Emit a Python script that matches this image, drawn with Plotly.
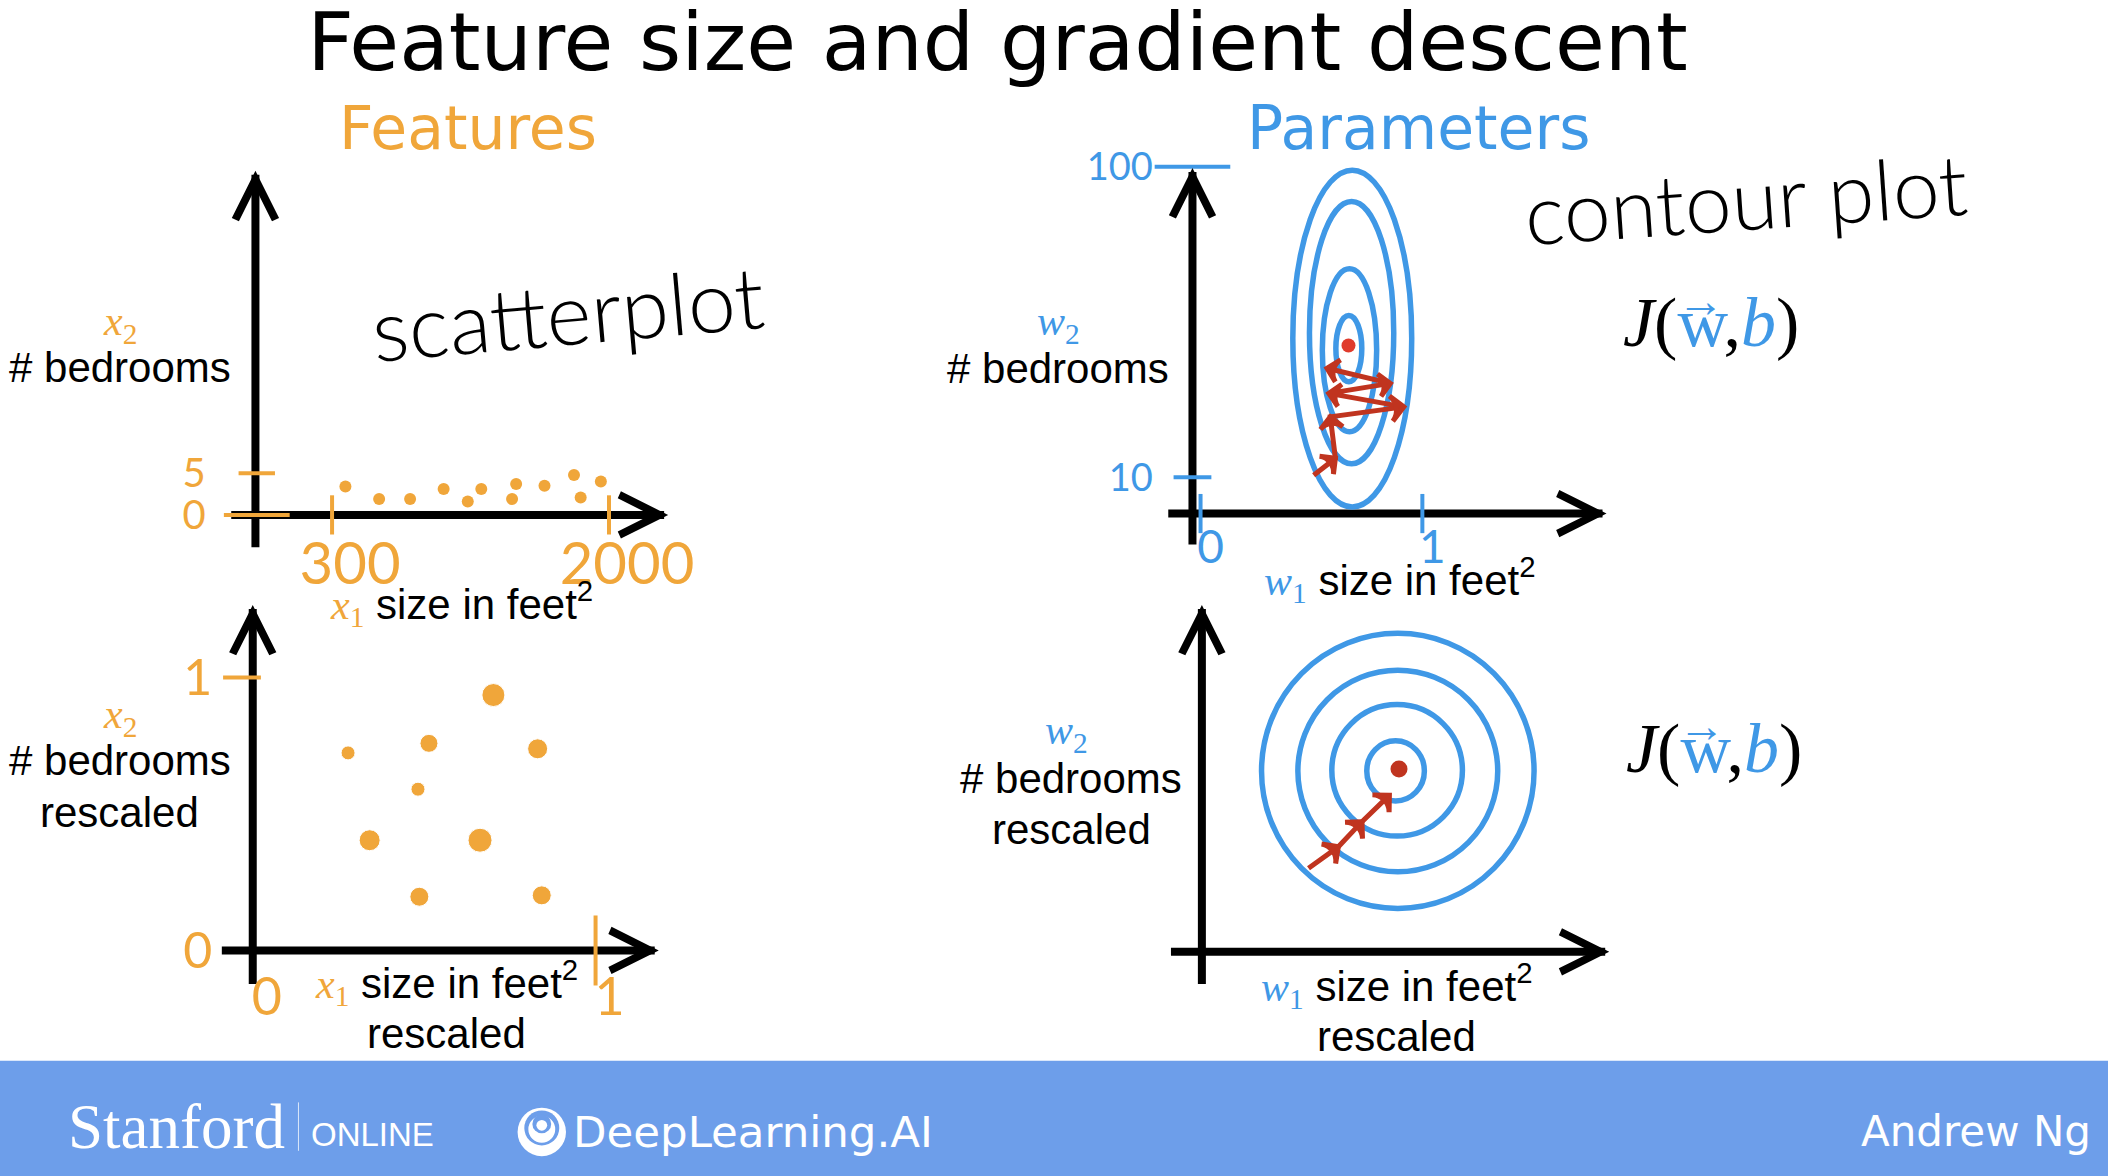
import plotly.graph_objects as go

# ---------- data ----------
raw_size = [382, 589, 779, 985, 1133, 1216, 1405, 1430, 1604, 1785, 1950, 1826]
raw_bedrooms = [3.4, 1.9, 1.9, 3.1, 1.6, 3.1, 1.9, 3.7, 3.5, 4.8, 4.0, 2.1]
raw_xticks = [300, 2000]
raw_yticks = [0, 5]

scaled_size = [0.278, 0.514, 0.702, 0.831, 0.482, 0.341, 0.663, 0.486, 0.843]
scaled_bedrooms = [0.724, 0.759, 0.936, 0.739, 0.591, 0.404, 0.404, 0.197, 0.202]
scaled_xticks = [0, 1]
scaled_yticks = [0, 1]
scaled_xmarks = [1]
scaled_ymarks = [1]

raw_w1_ticks = [0, 1]
raw_w2_ticks = [10, 100]
raw_ring_w1_low = [0.416, 0.491, 0.549, 0.610]
raw_ring_w1_high = [0.952, 0.871, 0.794, 0.727]
raw_ring_w2_low = [1.4, 13.9, 23.2, 37.7]
raw_ring_w2_high = [99.0, 89.9, 70.4, 56.9]
raw_path_w1 = [0.510, 0.608, 0.585, 0.916, 0.578, 0.856, 0.570]
raw_path_w2 = [10.6, 15.5, 27.5, 30.4, 34.3, 37.2, 41.6]
raw_min_w1 = [0.667]
raw_min_w2 = [48.2]

sc_ring_w1_low = [0.174, 0.280, 0.379, 0.481]
sc_ring_w1_high = [0.969, 0.863, 0.760, 0.649]
sc_ring_w2_low = [0.159, 0.293, 0.424, 0.553]
sc_ring_w2_high = [1.167, 1.032, 0.906, 0.773]
sc_path_w1 = [0.311, 0.398, 0.467, 0.547]
sc_path_w2 = [0.306, 0.385, 0.477, 0.574]
sc_min_w1 = [0.575]
sc_min_w2 = [0.670]

# ---------- style and layout helpers ----------
W, H = 2108, 1176
S = W / 1568
ORANGE, BLUE, RED = "#F0A63A", "#3F98E6", "#C0341F"
BAND = "#6D9EEA"
SANS, SERIF, WIDE = "Liberation Sans", "Liberation Serif", "DejaVu Sans"
HAND = "Lato Light, Lato"
DIGITS = "Lato"
LW = 8


def X(t):
    return t * S / W


def Y(t):
    return 1 - t * S / H


def span(v0, p0, v1, p1, a, b):
    k = (v1 - v0) / (p1 - p0)
    return [v0 + (a - p0) * k, v0 + (b - p0) * k]


fig = go.Figure()
annotations, shapes = [], []


def text(tx, ty, s, size, color="black", family=SANS, anchor="center", angle=0):
    annotations.append(dict(x=X(tx), y=Y(ty), xref="paper", yref="paper", text=s, showarrow=False,
                            xanchor=anchor, yanchor="middle", textangle=angle,
                            font=dict(size=size, color=color, family=family)))


def sym(letter, sub, color):
    return f'<span style="font-family:{SERIF};color:{color}"><i>{letter}</i><sub>{sub}</sub></span>'


def panel(n, ox, oy, tipx, tipy, left, down, xcal, ycal, xticks, yticks, xmarks, ymarks, tickcolor,
          xfont, yfont, xshift, xstand, ystand, xlen, ylens, ymark_px):
    """ox,oy axis origin; tip arrow ends; left/down axis overshoot (reference pixels / S units)."""
    a, b = min(ox, ymark_px) - 2, tipx
    c, d = oy + 2, tipy - 3
    xr = span(*xcal, a, b)
    yr = span(*ycal, c, d)
    x_for_ymarks = span(*xcal, ymark_px, ymark_px)[0]
    y_at_origin = span(*ycal, oy, oy)[0]
    base = dict(showgrid=False, zeroline=False, showline=False, ticks="", fixedrange=True, layer="below traces")
    sfx = "" if n == 1 else str(n)
    fig.layout[f"xaxis{sfx}"] = dict(base, domain=[X(a), X(b)], range=xr, anchor=f"y{sfx}",
                                     tickmode="array", tickvals=xticks, ticktext=[str(v) for v in xticks],
                                     tickfont=dict(size=xfont, color=tickcolor, family=DIGITS),
                                     ticklabelshift=xshift, ticklabelstandoff=xstand)
    fig.layout[f"yaxis{sfx}"] = dict(base, domain=[Y(c), Y(d)], range=yr, anchor=f"x{sfx}",
                                     tickmode="array", tickvals=yticks, ticktext=[str(v) for v in yticks],
                                     tickfont=dict(size=yfont, color=tickcolor, family=DIGITS),
                                     ticklabelstandoff=ystand)
    # axis lines, running past the origin
    shapes.append(dict(type="line", xref="paper", yref="paper", x0=X(left), x1=X(tipx - 3), y0=Y(oy), y1=Y(oy),
                       line=dict(color="black", width=LW), layer="below"))
    shapes.append(dict(type="line", xref="paper", yref="paper", x0=X(ox), x1=X(ox), y0=Y(tipy + 3), y1=Y(down),
                       line=dict(color="black", width=LW), layer="below"))
    # arrow heads
    annotations.append(dict(x=X(tipx), y=Y(oy), xref="paper", yref="paper", text="", showarrow=True,
                            arrowhead=5, arrowsize=1.05, arrowwidth=LW - 0.5, arrowcolor="black", ax=-24, ay=0))
    annotations.append(dict(x=X(ox), y=Y(tipy), xref="paper", yref="paper", text="", showarrow=True,
                            arrowhead=5, arrowsize=1.05, arrowwidth=LW - 0.5, arrowcolor="black", ax=0, ay=24))
    # tick marks, drawn across the axis lines
    xa, ya = f"x{sfx}", f"y{sfx}"
    if xmarks:
        fig.add_trace(go.Scatter(x=xmarks, y=[y_at_origin] * len(xmarks), xaxis=xa, yaxis=ya, mode="markers",
                                 cliponaxis=False, hoverinfo="skip",
                                 marker=dict(symbol="line-ns", size=xlen, opacity=1,
                                             line=dict(color=tickcolor, width=4))))
        fig.add_trace(go.Scatter(x=[x_for_ymarks] * len(ymarks), y=ymarks, xaxis=xa, yaxis=ya, mode="markers",
                                 cliponaxis=False, hoverinfo="skip",
                                 marker=dict(symbol="line-ew", size=ylens, opacity=1,
                                             line=dict(color=tickcolor, width=4))))
    return xa, ya


# Panel A: raw features
xa, ya = panel(1, 190, 383, 497, 127, 172, 407, (300, 247, 2000, 453), (0, 383, 5, 352),
               raw_xticks, raw_yticks, raw_xticks, raw_yticks, ORANGE, 58, 40, 18, 7, 46, 28, [47, 26], 191)
fig.add_trace(go.Scatter(x=raw_size, y=raw_bedrooms, xaxis=xa, yaxis=ya, mode="markers", hoverinfo="skip",
                         marker=dict(color=ORANGE, size=12, opacity=1)))

# Panel B: rescaled features
xa, ya = panel(2, 188, 707, 490, 450, 165, 732, (0, 188, 1, 443), (0, 707, 1, 504),
               scaled_xticks, scaled_yticks, scaled_xmarks, scaled_ymarks, ORANGE, 52, 50, 14, 9, 26, 50, [27], 180)
fig.add_trace(go.Scatter(x=scaled_size, y=scaled_bedrooms, xaxis=xa, yaxis=ya, mode="markers", hoverinfo="skip",
                         marker=dict(color=ORANGE, opacity=1, size=[14, 18, 23, 20, 14, 21, 24, 19, 19])))

# Panel C: raw parameters
xa, ya = panel(3, 887, 382, 1195, 125, 869, 405, (0, 893, 1, 1058), (10, 355, 100, 124),
               raw_w1_ticks, raw_w2_ticks, raw_w1_ticks, raw_w2_ticks, BLUE, 46, 38, 10, 0, 36, 28, [27, 54], 887)
for i in range(4):
    shapes.append(dict(type="circle", xref=xa, yref=ya, x0=raw_ring_w1_low[i], x1=raw_ring_w1_high[i],
                       y0=raw_ring_w2_low[i], y1=raw_ring_w2_high[i], line=dict(color=BLUE, width=5.5), layer="below"))
fig.add_trace(go.Scatter(x=raw_path_w1, y=raw_path_w2, xaxis=xa, yaxis=ya, mode="lines+markers", hoverinfo="skip",
                         line=dict(color=RED, width=5),
                         marker=dict(symbol="arrow-wide-open", angleref="previous", color=RED, opacity=1,
                                     size=[0, 16, 16, 18, 16, 16, 16], line=dict(color=RED, width=5))))
fig.add_trace(go.Scatter(x=raw_min_w1, y=raw_min_w2, xaxis=xa, yaxis=ya, mode="markers", hoverinfo="skip",
                         marker=dict(color="#E03B2C", size=14, opacity=1)))

# Panel D: rescaled parameters
xa, ya = panel(4, 894, 708, 1197, 450, 871, 732, (0, 894, 1, 1149), (0, 708, 1, 505),
               [], [], [], [], BLUE, 40, 40, 0, 0, 0, 0, [], 894)
for i in range(4):
    shapes.append(dict(type="circle", xref=xa, yref=ya, x0=sc_ring_w1_low[i], x1=sc_ring_w1_high[i],
                       y0=sc_ring_w2_low[i], y1=sc_ring_w2_high[i], line=dict(color=BLUE, width=5.5), layer="below"))
fig.add_trace(go.Scatter(x=sc_path_w1, y=sc_path_w2, xaxis=xa, yaxis=ya, mode="lines+markers", hoverinfo="skip",
                         line=dict(color=RED, width=5),
                         marker=dict(symbol="arrow-wide-open", angleref="previous", color=RED, opacity=1,
                                     size=[0, 17, 17, 17], line=dict(color=RED, width=5))))
fig.add_trace(go.Scatter(x=sc_min_w1, y=sc_min_w2, xaxis=xa, yaxis=ya, mode="markers", hoverinfo="skip",
                         marker=dict(color=RED, size=17, opacity=1)))

# ---------- texts ----------
text(348, 95, "Features", 60, ORANGE, WIDE)
text(1055, 95, "Parameters", 60, BLUE, WIDE)
text(422, 232, "scatterplot", 86, "black", HAND, angle=-5)
text(1299, 147, "contour plot", 84, "black", HAND, angle=-4)

FS = 42
feet = "size in feet<sup>2</sup>"
text(89, 241, sym("x", 2, ORANGE), FS)
text(89, 273, "# bedrooms", FS)
text(343, 449, sym("x", 1, ORANGE) + " " + feet, FS)

text(89, 533, sym("x", 2, ORANGE), FS)
text(89, 566, "# bedrooms", FS)
text(89, 604, "rescaled", FS)
text(332, 731, sym("x", 1, ORANGE) + " " + feet, FS)
text(332, 769, "rescaled", FS)

text(787, 241, sym("w", 2, BLUE), FS)
text(787, 274, "# bedrooms", FS)
text(1041, 431, sym("w", 1, BLUE) + " " + feet, FS)

text(793, 545, sym("w", 2, BLUE), FS)
text(797, 579, "# bedrooms", FS)
text(797, 617, "rescaled", FS)
text(1039, 733, sym("w", 1, BLUE) + " " + feet, FS)
text(1039, 771, "rescaled", FS)

cost = (f'<i>J</i>(<span style="color:{BLUE}">w</span>,'
        f'<span style="color:{BLUE}"><i>b</i></span>)')
text(1273, 240, cost, 70, "black", SERIF)
text(1265, 224, "\u2192", 47, BLUE, SERIF)
text(1275, 557, cost, 70, "black", SERIF)
text(1266, 540, "\u2192", 47, BLUE, SERIF)

# ---------- footer band ----------
shapes.insert(0, dict(type="rect", xref="paper", yref="paper", x0=0, x1=1, y0=0, y1=Y(789),
                      fillcolor=BAND, line=dict(width=0), layer="below"))
shapes.append(dict(type="line", xref="paper", yref="paper", x0=X(222), x1=X(222), y0=Y(820), y1=Y(856),
                   line=dict(color="#DCE8FA", width=1), layer="below"))


def disc(cx, cy, r, color):
    shapes.append(dict(type="circle", xref="paper", yref="paper", x0=X(cx - r), x1=X(cx + r),
                       y0=Y(cy + r), y1=Y(cy - r), fillcolor=color, line=dict(width=0), layer="below"))


disc(403, 842, 18, "white")
disc(403, 839, 13, BAND)
disc(403, 840, 10, "white")
disc(403, 836, 7, BAND)
disc(403, 837, 4, "white")

text(49, 838, "Stanford", 63, "white", SERIF, "left")
text(230, 844, "ONLINE", 33, "white", SANS, "left")
text(425, 842, "DeepLearning.AI", 43.5, "white", WIDE, "left")
text(1557, 842, "Andrew Ng", 42, "white", WIDE, "right")

fig.update_layout(
    width=W, height=H, margin=dict(l=0, r=0, t=0, b=0, autoexpand=False),
    paper_bgcolor="white", plot_bgcolor="rgba(0,0,0,0)",
    showlegend=False, annotations=annotations, shapes=shapes,
    title=dict(text="Feature size and gradient descent", x=X(742), xref="paper", xanchor="center",
               y=Y(31), yref="paper", yanchor="middle", font=dict(size=81, color="black", family=WIDE)),
)

fig.write_html("out.html", config=dict(displayModeBar=False),
               post_script="document.body.style.margin='0';")
